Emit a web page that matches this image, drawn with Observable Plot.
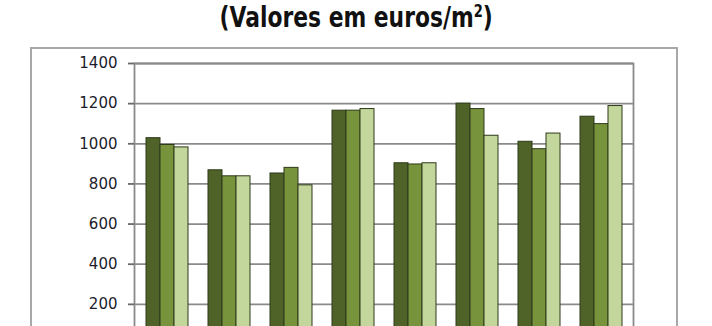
<!DOCTYPE html>
<html>
<head>
<meta charset="utf-8">
<script src="https://cdn.jsdelivr.net/npm/d3@7"></script>
<script src="https://cdn.jsdelivr.net/npm/@observablehq/plot@0.6"></script>
<style>
  html, body { margin: 0; padding: 0; background: #fff; }
  #wrap { position: relative; width: 712px; height: 326px; overflow: hidden; }
  #title { position: absolute; left: 0; top: 4px; width: 712px; text-align: center;
           font-family: "DejaVu Sans", Verdana, sans-serif; font-weight: bold;
           font-size: 28px; line-height: 28px; color: #111; white-space: nowrap; }
  #title span { display: inline-block; transform: scaleX(0.78); transform-origin: center; }
  #box { position: absolute; left: 30px; top: 47px; width: 644px; height: 400px;
         border: 2px solid #a8a8a8; box-sizing: content-box; }
  .layer { position: absolute; left: 0; top: 0; }
</style>
</head>
<body>
<div id="wrap">
  <div id="title"><span>(Valores em euros/m<sup style="font-size:0.6em;vertical-align:0.6em;line-height:0">2</sup>)</span></div>
  <div id="box"></div>
  <div id="bg" class="layer"></div>
  <div id="fg" class="layer"></div>
</div>
<script>
const categories = ["Portugal", "Norte", "Centro", "Lisboa", "Alentejo", "Algarve", "Açores", "Madeira"];
const series = ["Série 1", "Série 2", "Série 3"];
const values1 = [1028, 868, 852, 1165, 903, 1200, 1010, 1135];
const values2 = [ 994, 838, 880, 1165, 897, 1173,  973, 1098];
const values3 = [ 982, 838, 793, 1173, 903, 1040, 1051, 1188];
const yTicks = [200, 400, 600, 800, 1000, 1200, 1400];
const colors = ["#4f6228", "#77933c", "#c3d69b"];

const table = [];
[values1, values2, values3].forEach((vals, si) => {
  vals.forEach((v, ci) => table.push({category: categories[ci], series: series[si], value: v}));
});

const W = 712, H = 360;
const margins = {marginTop: 63, marginBottom: 16, marginLeft: 134, marginRight: 79};
const yScale = {domain: [0, 1400]};

const bg = Plot.plot({
  width: W, height: H, ...margins,
  style: {fontFamily: "'DejaVu Sans', Verdana, sans-serif", fontSize: "15px", color: "#1c1c2c", background: "transparent", overflow: "visible"},
  x: {domain: categories, axis: null},
  y: {...yScale, axis: null},
  marks: [
    Plot.ruleY(yTicks, {stroke: "#8a8a8a", strokeWidth: 1.8}),
    Plot.frame({stroke: "#8a8a8a", strokeWidth: 1.8}),
    Plot.axisY(yTicks, {tickSize: 6, tickPadding: 11, tickFormat: d => String(d), stroke: "#6a6a6a", strokeWidth: 1.8, fill: "#1c1c2c"})
  ]
});
document.getElementById("bg").appendChild(bg);

const fg = Plot.plot({
  width: W, height: H, ...margins,
  style: {background: "transparent", overflow: "visible"},
  fx: {domain: categories, padding: 0, axis: null},
  x: {domain: series, paddingInner: 0, paddingOuter: 0.68, axis: null},
  y: {...yScale, axis: null},
  color: {domain: series, range: colors},
  marks: [
    Plot.barY(table, {fx: "category", x: "series", y: "value", fill: "series", stroke: "#2e3a1a", strokeWidth: 1})
  ]
});
document.getElementById("fg").appendChild(fg);
</script>
</body>
</html>
